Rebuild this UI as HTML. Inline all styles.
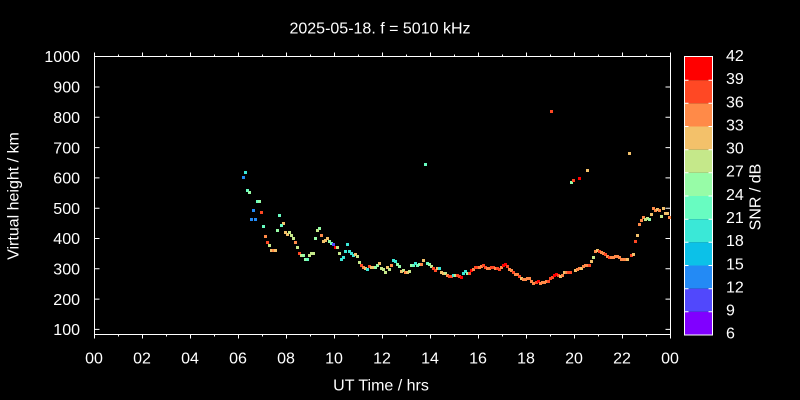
<!DOCTYPE html>
<html><head><meta charset="utf-8"><style>
html,body{margin:0;padding:0;background:#000;}
svg{display:block;}
text{font-family:"Liberation Sans",Arial,sans-serif;font-size:16px;fill:#fff;}
.c1{fill:#5148fc}.c2{fill:#238af5}.c3{fill:#0cc1e8}.c4{fill:#3ae8d7}.c5{fill:#68fcc1}.c6{fill:#97fca7}
.c7{fill:#c5e88a}.c8{fill:#f3c16a}.c9{fill:#ff8a48}.c10{fill:#ff4824}.c11{fill:#ff0000}
</style></head><body>
<svg id="s" width="800" height="400" viewBox="0 0 800 400" xmlns="http://www.w3.org/2000/svg">
<rect width="800" height="400" fill="#000"/>
<text x="380" y="33.3" text-anchor="middle">2025-05-18. f = 5010 kHz</text>
<g stroke="#fff" stroke-width="1" fill="none">
<rect x="94.5" y="56.5" width="576" height="278"/>
<path d="M94.5 56.5h5M665.5 56.5h5M94.5 87h5M665.5 87h5M94.5 117.3h5M665.5 117.3h5M94.5 147.6h5M665.5 147.6h5M94.5 177.9h5M665.5 177.9h5M94.5 208.2h5M665.5 208.2h5M94.5 238.5h5M665.5 238.5h5M94.5 268.8h5M665.5 268.8h5M94.5 299.1h5M665.5 299.1h5M94.5 329.4h5M665.5 329.4h5"/>
<path d="M94.5 334.5v4M94.5 56.5v-4M118.5 334.5v2M118.5 56.5v-2M142.5 334.5v4M142.5 56.5v-4M166.5 334.5v2M166.5 56.5v-2M190.5 334.5v4M190.5 56.5v-4M214.5 334.5v2M214.5 56.5v-2M238.5 334.5v4M238.5 56.5v-4M262.5 334.5v2M262.5 56.5v-2M286.5 334.5v4M286.5 56.5v-4M310.5 334.5v2M310.5 56.5v-2M334.5 334.5v4M334.5 56.5v-4M358.5 334.5v2M358.5 56.5v-2M382.5 334.5v4M382.5 56.5v-4M406.5 334.5v2M406.5 56.5v-2M430.5 334.5v4M430.5 56.5v-4M454.5 334.5v2M454.5 56.5v-2M478.5 334.5v4M478.5 56.5v-4M502.5 334.5v2M502.5 56.5v-2M526.5 334.5v4M526.5 56.5v-4M550.5 334.5v2M550.5 56.5v-2M574.5 334.5v4M574.5 56.5v-4M598.5 334.5v2M598.5 56.5v-2M622.5 334.5v4M622.5 56.5v-4M646.5 334.5v2M646.5 56.5v-2M670.5 334.5v4M670.5 56.5v-4"/>
</g>
<g text-anchor="end">
<text x="80" y="62.2">1000</text><text x="80" y="92.7">900</text><text x="80" y="123">800</text><text x="80" y="153.3">700</text><text x="80" y="183.6">600</text><text x="80" y="213.9">500</text><text x="80" y="244.2">400</text><text x="80" y="274.5">300</text><text x="80" y="304.8">200</text><text x="80" y="335.1">100</text>
</g>
<g text-anchor="middle">
<text x="94" y="363.5">00</text><text x="142" y="363.5">02</text><text x="190" y="363.5">04</text><text x="238" y="363.5">06</text><text x="286" y="363.5">08</text><text x="334" y="363.5">10</text><text x="382" y="363.5">12</text><text x="430" y="363.5">14</text><text x="478" y="363.5">16</text><text x="526" y="363.5">18</text><text x="574" y="363.5">20</text><text x="622" y="363.5">22</text><text x="670" y="363.5">00</text>
</g>
<text x="381" y="390.5" text-anchor="middle">UT Time / hrs</text>
<text transform="translate(18.5,196) rotate(-90)" text-anchor="middle">Virtual height / km</text>
<text transform="translate(760.5,197) rotate(-90)" text-anchor="middle">SNR / dB</text>
<!-- colorbar -->
<g>
<rect x="684.5" y="57" width="28" height="23.17" class="c11"/>
<rect x="684.5" y="80.17" width="28" height="23.17" class="c10"/>
<rect x="684.5" y="103.33" width="28" height="23.17" class="c9"/>
<rect x="684.5" y="126.5" width="28" height="23.17" class="c8"/>
<rect x="684.5" y="149.67" width="28" height="23.17" class="c7"/>
<rect x="684.5" y="172.83" width="28" height="23.17" class="c6"/>
<rect x="684.5" y="196" width="28" height="23.17" class="c5"/>
<rect x="684.5" y="219.17" width="28" height="23.17" class="c4"/>
<rect x="684.5" y="242.33" width="28" height="23.17" class="c3"/>
<rect x="684.5" y="265.5" width="28" height="23.17" class="c2"/>
<rect x="684.5" y="288.67" width="28" height="23.17" class="c1"/>
<rect x="684.5" y="311.83" width="28" height="23.17" fill="#8000ff"/>
</g>
<g stroke="#fff" stroke-width="1" fill="none">
<rect x="684.5" y="56.5" width="28" height="278.5"/>
<path d="M684.5 80.2h4M708.5 80.2h4M684.5 103.3h4M708.5 103.3h4M684.5 126.5h4M708.5 126.5h4M684.5 149.7h4M708.5 149.7h4M684.5 172.8h4M708.5 172.8h4M684.5 196h4M708.5 196h4M684.5 219.2h4M708.5 219.2h4M684.5 242.3h4M708.5 242.3h4M684.5 265.5h4M708.5 265.5h4M684.5 288.7h4M708.5 288.7h4M684.5 311.8h4M708.5 311.8h4"/>
</g>
<g>
<text x="726" y="61">42</text><text x="726" y="84.1">39</text><text x="726" y="107.3">36</text><text x="726" y="130.4">33</text><text x="726" y="153.6">30</text><text x="726" y="176.7">27</text><text x="726" y="199.8">24</text><text x="726" y="223">21</text><text x="726" y="246.1">18</text><text x="726" y="269.3">15</text><text x="726" y="292.4">12</text><text x="726" y="315.6">9</text><text x="726" y="338.7">6</text>
</g>
<g id="pts"></g>
</svg>
<script>
var d=[
[245.3,172.3,4],[243.3,177.3,2],[247.3,190.3,5],[249.3,192.3,6],[257.3,201.3,5],[259.3,201.3,6],[253.3,210.3,2],[261.3,212.3,10],[251.3,219.3,2],[255.3,219.3,2],[263.3,226.3,5],[265.3,236.3,9],[267.3,242.3,10],[269.3,245.3,7],[271.3,250.3,8],[273.3,250.3,9],[275.3,250.3,8],[279.3,215.3,5],[283.3,223.3,8],[281.3,225.3,5],[277.3,230.3,6],[285.3,232.3,8],[287.3,234.3,8],[289.3,232.3,7],[291.3,235.3,7],[293.3,238.3,7],[295.3,242.3,9],[297.3,247.3,7],[299.3,253.3,10],[301.3,255.3,7],[303.3,255.3,6],[305.3,259.3,6],[307.3,259.3,5],[309.3,255.3,7],[311.3,253.3,7],[313.3,253.3,7],[315.3,238.3,6],[317.3,230.3,7],[319.3,228.3,6],[321.3,235.3,9],[323.3,241.3,8],[325.3,240.3,8],[327.3,238.3,8],[329.3,241.3,6],[331.3,243.3,5],[333.3,244.3,1],[335.3,247.3,11],[337.3,247.3,7],[339.3,253.3,7],[341.3,259.3,4],[343.3,257.3,4],[345.3,251.3,4],[347.3,244.3,4],[349.3,251.3,4],[351.3,253.3,4],[353.3,255.3,4],[355.3,254.3,8],[357.3,256.3,7],[359.3,262.3,7],[361.3,265.3,10],[363.3,267.3,9],[365.3,268.3,8],[367.3,269.3,4],[369.3,266.3,10],[371.3,267.3,8],[373.3,267.3,8],[375.3,267.3,6],[377.3,265.3,6],[379.3,263.3,8],
[381,268.3,7],[383,269.3,7],[385,272.3,7],[387,267.3,8],[389,269.3,7],[391,265.3,9],[393,260.3,4],[395,261.3,4],[397,264.3,6],[399,266.3,6],[401,271.3,8],[403,270.3,7],[405,272.3,9],[407,272.3,8],[409,271.3,7],[411,265.3,6],[413,265.3,5],[415,263.3,4],[417,265.3,5],[419,264.3,6],[421,264.3,9],[423,260.3,8],[425.3,164.3,5],[427,263.3,5],[429,264.3,6],[431,266.3,7],[433,268.3,10],[435,270.3,10],[437,268.3,8],[439,268.3,4],[441,272.3,8],[443,273.3,8],[445,273.3,7],[447,275.3,9],[449,276.3,10],[451,276.3,10],[453,275.3,4],[455,275.3,7],[457,275.3,10],[459,276.3,10],[461,277.3,11],[463,273.3,4],[465,271.3,4],[467,273.3,6],[469,273.3,10],[471,270.3,11],[473,269.3,9],[475,267.3,10],[477,267.3,10],[479,267.3,9],[481,266.3,9],[483,265.3,10],[485,267.3,10],[487,268.3,9],[489,268.3,9],[491,267.3,10],[493,267.3,10],[495,268.3,9],[497,268.3,10],[499,269.3,10],[501,267.3,9],[503,265.3,11],[505,264.3,11],[507,266.3,10],[509,269.3,9],[511,270.3,9],[513,272.3,10],[515,274.3,9],[517,274.3,9],[519,276.3,10],[521,278.3,8],[523,279.3,9],[525,279.3,9],[527,278.3,9],[529,278.3,9],[531,281.3,9],[533,283.3,9],
[536,282.3,10],[538,281.3,11],[540,283.3,9],[542,282.3,9],[544,282.3,9],[546,281.3,9],[548,281.3,10],[550,278.3,10],[551.3,111.3,10],[552,277.3,10],[554,275.3,11],[556,274.3,11],[558,275.3,10],[560,276.3,8],[562,275.3,9],[564,272.3,8],[566,272.3,9],[568,272.3,10],[570,272.3,10],[571.3,182.3,6],[573.3,180.3,10],[579.3,178.3,11],[575.3,270.3,8],[577.3,269.3,9],[579.3,268.3,9],[581.3,268.3,8],[583.3,266.3,9],[585.3,265.3,9],[587.3,170.3,8],[587.3,265.3,9],[589.3,265.3,10],[591.3,261.3,8],[593.3,257.3,7],[595.3,251.3,9],[597.3,250.3,8],[599.3,251.3,10],[601.3,252.3,9],[603.3,253.3,9],[605.3,254.3,10],[607.3,256.3,9],[609.3,257.3,10],[611.3,257.3,9],[613.3,257.3,9],[615.3,256.3,9],[617.3,256.3,9],[619.3,257.3,9],[621.3,259.3,9],[623.3,259.3,9],[625.3,259.3,9],[627.3,259.3,8],[629.3,153.3,8],[631.3,255.3,10],[633.3,254.3,8],[635.3,241.3,10],[637.3,235.3,8],[639.3,224.3,9],[641.3,220.3,9],[643.3,217.3,9],[645.3,219.3,7],[647.3,218.3,7],[649.3,219.3,6],[651.3,214.3,8],[653.3,208.3,9],[655.3,210.3,9],[657.3,209.3,8],[659.3,210.3,9],[661.3,216.3,7],[663.3,208.3,8],[665.3,213.3,8],[667.3,213.3,8],[669.3,217.3,9]
];
var g=document.getElementById('pts'),ns='http://www.w3.org/2000/svg';
for(var i=0;i<d.length;i++){var r=document.createElementNS(ns,'rect');r.setAttribute('x',Math.round(d[i][0]-1.5));r.setAttribute('y',Math.round(d[i][1]-1.5));r.setAttribute('width',3);r.setAttribute('height',3);r.setAttribute('class','c'+d[i][2]);g.appendChild(r);}
</script>
</body></html>
